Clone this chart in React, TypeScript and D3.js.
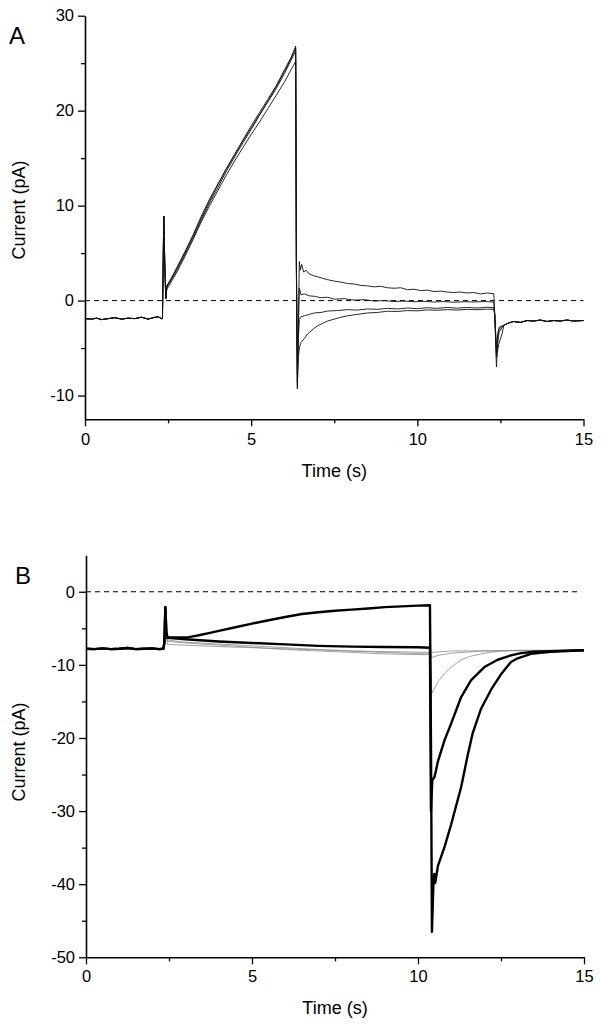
import React, { useEffect, useRef } from 'react';
import * as d3 from 'd3';

type Pt = [number, number];

// ---------- panel A : ramp protocol, four sweeps ----------
const aXTicks = [0, 5, 10, 15];
const aXMinor = [2.5, 7.5, 12.5];
const aYTicks = [-10, 0, 10, 20, 30];
const aYMinor = [-5, 5, 15, 25];

const aPre: Pt[] = [[0, -1.9], [0.2, -1.95], [0.35, -1.85], [0.5, -2.0], [0.7, -1.9], [0.9, -1.8], [1.1, -1.95], [1.3, -1.85], [1.5, -1.9], [1.7, -1.75], [1.9, -1.95], [2.05, -1.8], [2.2, -1.7], [2.3, -1.9], [2.33, -1.9]];
const aOn: Pt[] = [[2.34, 0.5], [2.37, 8.9], [2.4, 4], [2.43, 0.2], [2.47, 1.6]];

const aRamp1: Pt[] = [[2.5, 1.8], [2.6, 2.4], [2.75, 3.4], [3.0, 5.1], [3.25, 6.9], [3.5, 8.9], [3.75, 10.7], [4.0, 12.3], [4.25, 13.9], [4.5, 15.4], [4.75, 16.9], [5.0, 18.4], [5.25, 19.8], [5.5, 21.2], [5.75, 22.6], [6.0, 24.3], [6.2, 25.6], [6.34, 26.8]];
const aRamp2: Pt[] = [[2.5, 1.6], [2.6, 2.2], [2.75, 3.1], [3.0, 4.8], [3.25, 6.6], [3.5, 8.5], [3.75, 10.3], [4.0, 11.9], [4.25, 13.6], [4.5, 15.1], [4.75, 16.6], [5.0, 18.0], [5.25, 19.5], [5.5, 20.9], [5.75, 22.3], [6.0, 23.9], [6.2, 25.3], [6.34, 26.3]];
const aRamp3: Pt[] = [[2.5, 1.4], [2.6, 2.0], [2.75, 2.9], [3.0, 4.6], [3.25, 6.4], [3.5, 8.3], [3.75, 10.0], [4.0, 11.6], [4.25, 13.2], [4.5, 14.7], [4.75, 16.1], [5.0, 17.5], [5.25, 18.8], [5.5, 20.2], [5.75, 21.6], [6.0, 23.0], [6.2, 24.3], [6.34, 25.2]];
const aRamp4: Pt[] = [[2.5, 1.7], [2.6, 2.3], [2.75, 3.3], [3.0, 5.0], [3.25, 6.8], [3.5, 8.7], [3.75, 10.5], [4.0, 12.2], [4.25, 13.8], [4.5, 15.3], [4.75, 16.8], [5.0, 18.2], [5.25, 19.6], [5.5, 21.0], [5.75, 22.5], [6.0, 24.1], [6.2, 25.5], [6.34, 26.6]];

const aOff1: Pt[] = [[6.36, 5], [6.39, -9.3], [6.42, -2]];
const aOff2: Pt[] = [[6.36, 4], [6.39, -8.6], [6.42, -3]];
const aOff3: Pt[] = [[6.36, 3], [6.39, -7.8], [6.42, -4]];
const aOff4: Pt[] = [[6.36, 4], [6.39, -9.0], [6.42, -6]];

const aDecay1: Pt[] = [[6.45, 4.1], [6.48, 3.2], [6.52, 3.8], [6.58, 3.0], [6.65, 3.2], [6.75, 2.8], [6.9, 2.6], [7.0, 2.5], [7.15, 2.35], [7.3, 2.2], [7.5, 2.05], [7.7, 1.95], [7.9, 1.8], [8.1, 1.75], [8.3, 1.6], [8.5, 1.55], [8.7, 1.45], [8.9, 1.5], [9.1, 1.35], [9.3, 1.3], [9.5, 1.35], [9.7, 1.15], [9.9, 1.2], [10.1, 1.05], [10.3, 1.1], [10.5, 0.95], [10.7, 1.0], [10.9, 0.9], [11.1, 0.85], [11.3, 0.9], [11.5, 0.8], [11.7, 0.85], [11.9, 0.7], [12.1, 0.8], [12.3, 0.72]];
const aDecay2: Pt[] = [[6.45, 1.3], [6.5, 0.6], [6.6, 0.7], [6.75, 0.5], [6.9, 0.45], [7.1, 0.3], [7.3, 0.35], [7.5, 0.15], [7.8, 0.2], [8.1, 0.05], [8.4, 0.1], [8.7, -0.05], [9.0, 0.0], [9.3, -0.1], [9.6, -0.05], [9.9, -0.12], [10.2, -0.08], [10.5, -0.15], [10.8, -0.1], [11.1, -0.18], [11.4, -0.12], [11.7, -0.15], [12.0, -0.1], [12.3, -0.15]];
const aDecay3: Pt[] = [[6.45, -2.0], [6.5, -1.7], [6.6, -1.6], [6.75, -1.45], [6.9, -1.3], [7.1, -1.25], [7.3, -1.1], [7.6, -1.05], [7.9, -0.95], [8.2, -1.0], [8.5, -0.88], [8.8, -0.92], [9.1, -0.82], [9.4, -0.88], [9.7, -0.78], [10.0, -0.85], [10.3, -0.75], [10.6, -0.82], [10.9, -0.72], [11.2, -0.8], [11.5, -0.72], [11.8, -0.78], [12.1, -0.7], [12.3, -0.75]];
const aDecay4: Pt[] = [[6.45, -5.0], [6.5, -4.4], [6.6, -4.0], [6.7, -3.5], [6.8, -3.2], [6.9, -2.9], [7.0, -2.65], [7.15, -2.4], [7.3, -2.15], [7.5, -1.95], [7.7, -1.75], [7.9, -1.6], [8.2, -1.45], [8.5, -1.3], [8.8, -1.25], [9.1, -1.12], [9.4, -1.15], [9.7, -1.05], [10.0, -1.08], [10.3, -0.98], [10.6, -1.02], [10.9, -0.95], [11.2, -1.0], [11.5, -0.92], [11.8, -0.96], [12.1, -0.9], [12.3, -0.92]];

const aEnd1: Pt[] = [[12.33, -1.5], [12.38, -7.0], [12.42, -4.5], [12.46, -3.3]];
const aEnd2: Pt[] = [[12.33, -1.5], [12.38, -5.5], [12.42, -3.8], [12.46, -3.0]];
const aEnd3: Pt[] = [[12.33, -1.5], [12.38, -5.0], [12.42, -3.5], [12.46, -2.8]];
const aEnd4: Pt[] = [[12.33, -1.5], [12.38, -6.0], [12.45, -4.6], [12.55, -3.5]];
const aTail: Pt[] = [[12.6, -2.6], [12.75, -2.35], [12.9, -2.2], [13.1, -2.3], [13.3, -2.1], [13.5, -2.15], [13.7, -2.05], [13.9, -2.2], [14.1, -2.1], [14.3, -2.15], [14.5, -2.05], [14.7, -2.15], [15, -2.1]];

// ---------- panel B : step protocol ----------
const bXTicks = [0, 5, 10, 15];
const bXMinor = [2.5, 7.5, 12.5];
const bYTicks = [-50, -40, -30, -20, -10, 0];
const bYMinor = [-45, -35, -25, -15, -5];

const bPre: Pt[] = [[0, -7.8], [0.25, -7.85], [0.5, -7.75], [0.75, -7.85], [1.0, -7.8], [1.25, -7.7], [1.5, -7.85], [1.75, -7.8], [2.0, -7.75], [2.2, -7.85], [2.33, -7.8]];
const bOn: Pt[] = [[2.36, -7.0], [2.39, -2.1], [2.42, -5.5]];

const bRise: Pt[] = [[2.45, -6.2], [2.8, -6.25], [3.1, -6.2], [3.4, -5.95], [3.7, -5.65], [4.0, -5.35], [4.5, -4.85], [5.0, -4.35], [5.5, -3.9], [6.0, -3.45], [6.5, -3.05], [7.0, -2.8], [7.5, -2.6], [8.0, -2.45], [8.5, -2.3], [9.0, -2.1], [9.5, -2.0], [10.0, -1.9], [10.36, -1.85]];
const bDeep: Pt[] = [[10.39, -20], [10.42, -46.5], [10.46, -40.5], [10.49, -38.6], [10.52, -39.8], [10.6, -37.5], [10.8, -34.9], [11.0, -31.8], [11.3, -26.7], [11.5, -22.3], [11.65, -19.3], [11.9, -16.0], [12.2, -13.4], [12.5, -11.3], [12.8, -9.6], [13.0, -9.1], [13.4, -8.5], [14.0, -8.2], [14.5, -8.1], [15, -8.0]];

const bFlat: Pt[] = [[2.45, -6.3], [3.0, -6.5], [4.0, -6.8], [5.0, -7.0], [6.0, -7.2], [7.0, -7.4], [8.0, -7.5], [9.0, -7.55], [10.0, -7.6], [10.36, -7.65]];
const bMid: Pt[] = [[10.39, -30], [10.43, -25.8], [10.5, -25.3], [10.6, -23.2], [10.8, -20.3], [11.0, -18.0], [11.3, -14.4], [11.6, -12.1], [12.0, -10.3], [12.4, -9.3], [12.8, -8.7], [13.1, -8.4], [13.5, -8.2], [14.5, -8.05], [15, -8.0]];

const bGrey1: Pt[] = [[2.45, -6.8], [3.0, -7.0], [4.0, -7.3], [5.0, -7.6], [6.0, -7.9], [7.0, -8.1], [8.0, -8.3], [9.0, -8.5], [10.0, -8.6], [10.36, -8.6], [10.42, -13.9], [10.6, -12.3], [10.8, -11.2], [11.0, -10.3], [11.3, -9.3], [11.6, -8.8], [12.0, -8.4], [12.5, -8.1], [13.0, -8.0], [15, -8.0]];
const bGrey2: Pt[] = [[2.45, -7.2], [4.0, -7.5], [6.0, -7.8], [8.0, -8.1], [10.36, -8.3], [10.42, -9.0], [10.6, -8.7], [11.0, -8.4], [12.0, -8.1], [15, -8.0]];
const bGrey3: Pt[] = [[2.45, -6.6], [3.0, -6.9], [5.0, -7.4], [7.0, -7.9], [9.0, -8.3], [10.36, -8.5], [10.42, -8.3], [11.0, -8.1], [15, -8.0]];

const FONT = 'Arial, "Liberation Sans", Helvetica, sans-serif';

type Trace = { data: Pt[]; width: number; color: string };

function drawPanel(svg: any, o: any) {
  const x = d3.scaleLinear().domain([0, 15]).range(o.xRange);
  const y = d3.scaleLinear().domain(o.yDomain).range(o.yRange);
  const g = svg.append('g');

  const line = d3.line<Pt>().x(d => x(d[0])).y(d => y(d[1]));

  // zero line
  g.append('line')
    .attr('x1', x(0)).attr('x2', o.zeroEnd)
    .attr('y1', y(0)).attr('y2', y(0))
    .attr('stroke', '#000').attr('stroke-width', 1)
    .attr('stroke-dasharray', '5,4');

  o.traces.forEach((t: Trace) => {
    g.append('path')
      .attr('d', line(t.data))
      .attr('fill', 'none')
      .attr('stroke', t.color)
      .attr('stroke-width', t.width)
      .attr('stroke-linejoin', 'round');
  });

  const fmt = (d: any) => String(d);
  const xa = g.append('g').attr('transform', `translate(0,${o.yRange[0]})`)
    .call(d3.axisBottom(x).tickValues(o.xTicks).tickSize(7).tickSizeOuter(0).tickPadding(o.xPad).tickFormat(fmt));
  const xm = g.append('g').attr('transform', `translate(0,${o.yRange[0]})`)
    .call(d3.axisBottom(x).tickValues(o.xMinor).tickSize(4).tickSizeOuter(0).tickFormat(() => ''));
  const ya = g.append('g').attr('transform', `translate(${o.xRange[0]},0)`)
    .call(d3.axisLeft(y).tickValues(o.yTicks).tickSize(7).tickSizeOuter(0).tickPadding(4).tickFormat(fmt));
  const ym = g.append('g').attr('transform', `translate(${o.xRange[0]},0)`)
    .call(d3.axisLeft(y).tickValues(o.yMinor).tickSize(4).tickSizeOuter(0).tickFormat(() => ''));

  [xm, ym].forEach(a => a.select('.domain').remove());
  [xa, ya, xm, ym].forEach(a => {
    a.selectAll('.domain').attr('stroke-width', 1.6);
    a.selectAll('.tick line').attr('stroke-width', 1.3);
    a.selectAll('text').attr('font-size', 16.5).attr('font-family', FONT).attr('fill', '#000');
  });

  g.append('text')
    .attr('x', o.letterPos[0]).attr('y', o.letterPos[1])
    .attr('font-size', 24).attr('font-family', FONT)
    .text(o.letter);

  g.append('text')
    .attr('x', (o.xRange[0] + o.xRange[1]) / 2).attr('y', o.xTitleY)
    .attr('text-anchor', 'middle')
    .attr('font-size', 18).attr('font-family', FONT)
    .text('Time (s)');

  g.append('text')
    .attr('transform', `translate(25,${o.yTitleMid}) rotate(-90)`)
    .attr('text-anchor', 'middle')
    .attr('font-size', 18).attr('font-family', FONT)
    .text('Current (pA)');
}

export default function App() {
  const ref = useRef<SVGSVGElement>(null);

  useEffect(() => {
    const svg = d3.select(ref.current);
    svg.selectAll('*').remove();

    const thin = 0.9;
    const a1 = [...aPre, ...aOn, ...aRamp1, ...aOff1, ...aDecay1, ...aEnd1, ...aTail];
    const a2 = [...aPre, ...aOn, ...aRamp2, ...aOff2, ...aDecay2, ...aEnd2, ...aTail];
    const a3 = [...aPre, ...aOn, ...aRamp3, ...aOff3, ...aDecay3, ...aEnd3, ...aTail];
    const a4 = [...aPre, ...aOn, ...aRamp4, ...aOff4, ...aDecay4, ...aEnd4, ...aTail];

    drawPanel(svg, {
      xRange: [85, 583.5], yDomain: [-12.5, 30], yRange: [419.3, 15.7],
      xTicks: aXTicks, xMinor: aXMinor, yTicks: aYTicks, yMinor: aYMinor,
      xPad: 7, zeroEnd: 583.5, letter: 'A', letterPos: [9, 44], xTitleY: 477, yTitleMid: 210,
      traces: [a1, a2, a3, a4].map(d => ({ data: d, width: thin, color: '#111' })),
    });

    drawPanel(svg, {
      xRange: [86, 584], yDomain: [-50, 5], yRange: [957.3, 555.2],
      xTicks: bXTicks, xMinor: bXMinor, yTicks: bYTicks, yMinor: bYMinor,
      xPad: 6, zeroEnd: 580, letter: 'B', letterPos: [15, 584], xTitleY: 1014, yTitleMid: 752,
      traces: [
        { data: [...bPre, ...bOn, ...bGrey1], width: 0.8, color: '#8a8a8a' },
        { data: [...bPre, ...bOn, ...bGrey2], width: 0.8, color: '#8a8a8a' },
        { data: [...bPre, ...bOn, ...bGrey3], width: 0.8, color: '#8a8a8a' },
        { data: [...bPre, ...bOn, ...bFlat, ...bMid], width: 2.4, color: '#000' },
        { data: [...bPre, ...bOn, ...bRise, ...bDeep], width: 2.4, color: '#000' },
      ],
    });
  }, []);

  return (
    <svg ref={ref} width={602} height={1026}
      style={{ position: 'absolute', left: 0, top: 0, background: '#fff' }} />
  );
}
